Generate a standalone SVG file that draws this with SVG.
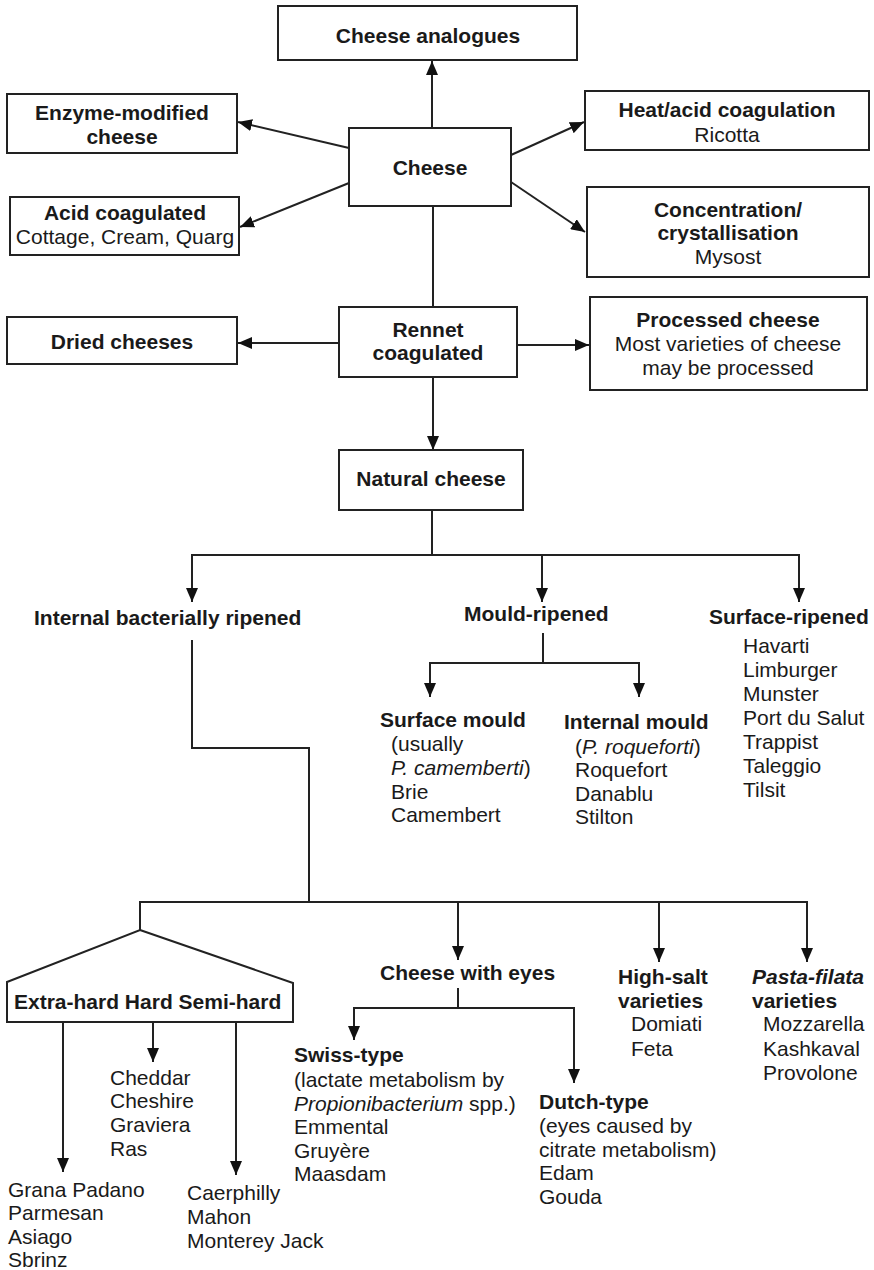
<svg xmlns="http://www.w3.org/2000/svg" width="874" height="1270" viewBox="0 0 874 1270">
<style>
text{font-family:"Liberation Sans",Arial,sans-serif;font-size:21px;fill:#1a1a1a}
.b{font-weight:bold}
.i{font-style:italic}
.c{text-anchor:middle}
.box{fill:#fff;stroke:#222;stroke-width:2}
.ln{fill:none;stroke:#222;stroke-width:2}
.ar{fill:none;stroke:#222;stroke-width:2;marker-end:url(#ah)}
</style>
<defs>
<marker id="ah" markerUnits="userSpaceOnUse" markerWidth="14" markerHeight="12" refX="14" refY="6" orient="auto">
<path d="M0,0 L14,6 L0,12 z" fill="#111"/>
</marker>
</defs>
<rect width="874" height="1270" fill="#fff"/>
<g id="connectors">
<line class="ar" x1="432" y1="128" x2="432" y2="61"/>
<line class="ar" x1="349" y1="148" x2="238" y2="122"/>
<line class="ar" x1="349" y1="183" x2="240" y2="227"/>
<line class="ar" x1="511" y1="155" x2="584" y2="122"/>
<line class="ar" x1="511" y1="182" x2="585" y2="232"/>
<line class="ln" x1="433" y1="206" x2="433" y2="307"/>
<line class="ar" x1="339" y1="343" x2="238" y2="343"/>
<line class="ar" x1="517" y1="345" x2="589" y2="345"/>
<line class="ar" x1="433" y1="377" x2="433" y2="450"/>
<line class="ln" x1="432" y1="510" x2="432" y2="555"/>
<line class="ln" x1="191" y1="555" x2="800" y2="555"/>
<line class="ar" x1="192" y1="555" x2="192" y2="602"/>
<line class="ar" x1="542" y1="555" x2="542" y2="602"/>
<line class="ar" x1="799" y1="555" x2="799" y2="602"/>
<line class="ln" x1="543" y1="633" x2="543" y2="663"/>
<line class="ln" x1="429" y1="663" x2="640" y2="663"/>
<line class="ar" x1="430" y1="663" x2="430" y2="697"/>
<line class="ar" x1="639" y1="663" x2="639" y2="697"/>
<polyline class="ln" points="192,640 192,748 309,748 309,902"/>
<line class="ln" x1="139" y1="902" x2="808" y2="902"/>
<line class="ln" x1="140" y1="902" x2="140" y2="930"/>
<line class="ar" x1="458" y1="902" x2="458" y2="960"/>
<line class="ar" x1="659" y1="902" x2="659" y2="962"/>
<line class="ar" x1="807" y1="902" x2="807" y2="962"/>
<line class="ar" x1="63" y1="1022" x2="63" y2="1172"/>
<line class="ar" x1="153" y1="1022" x2="153" y2="1062"/>
<line class="ar" x1="236" y1="1022" x2="236" y2="1175"/>
<line class="ln" x1="458" y1="988" x2="458" y2="1008"/>
<line class="ln" x1="353" y1="1008" x2="575" y2="1008"/>
<line class="ar" x1="354" y1="1008" x2="354" y2="1040"/>
<line class="ar" x1="574" y1="1008" x2="574" y2="1083"/>
</g>
<g id="cheese-analogues"><rect class="box" x="278" y="6" width="299" height="54"/><text class="b c" x="428" y="43">Cheese analogues</text></g>
<g id="enzyme-modified"><rect class="box" x="7" y="94" width="230" height="59"/><text class="b c" x="122" y="120">Enzyme-modified</text><text class="b c" x="122" y="144">cheese</text></g>
<g id="cheese"><rect class="box" x="349" y="128" width="162" height="78"/><text class="b c" x="430" y="175">Cheese</text></g>
<g id="heat-acid"><rect class="box" x="585" y="91" width="284" height="59"/><text class="b c" x="727" y="117">Heat/acid coagulation</text><text class="c" x="727" y="142">Ricotta</text></g>
<g id="acid-coagulated"><rect class="box" x="10" y="197" width="229" height="58"/><text class="b c" x="125" y="220">Acid coagulated</text><text class="c" x="125" y="244">Cottage, Cream, Quarg</text></g>
<g id="concentration"><rect class="box" x="587" y="187" width="282" height="90"/><text class="b c" x="728" y="217">Concentration/</text><text class="b c" x="728" y="240">crystallisation</text><text class="c" x="728" y="264">Mysost</text></g>
<g id="rennet"><rect class="box" x="339" y="307" width="178" height="70"/><text class="b c" x="428" y="337">Rennet</text><text class="b c" x="428" y="360">coagulated</text></g>
<g id="dried"><rect class="box" x="7" y="317" width="230" height="47"/><text class="b c" x="122" y="349">Dried cheeses</text></g>
<g id="processed"><rect class="box" x="590" y="297" width="277" height="93"/><text class="b c" x="728" y="327">Processed cheese</text><text class="c" x="728" y="351">Most varieties of cheese</text><text class="c" x="728" y="375">may be processed</text></g>
<g id="natural"><rect class="box" x="339" y="450" width="184" height="60"/><text class="b c" x="431" y="486">Natural cheese</text></g>
<g id="internal-bacterial"><text class="b" x="34" y="625">Internal bacterially ripened</text></g>
<g id="mould-ripened"><text class="b" x="464" y="621">Mould-ripened</text></g>
<g id="surface-ripened"><text class="b" x="709" y="624">Surface-ripened</text>
<text x="743" y="653">Havarti</text><text x="743" y="677">Limburger</text><text x="743" y="701">Munster</text><text x="743" y="725">Port du Salut</text><text x="743" y="749">Trappist</text><text x="743" y="773">Taleggio</text><text x="743" y="797">Tilsit</text></g>
<g id="surface-mould"><text class="b" x="380" y="727">Surface mould</text><text x="391" y="751">(usually</text><text x="391" y="775"><tspan class="i">P. camemberti</tspan>)</text><text x="391" y="799">Brie</text><text x="391" y="822">Camembert</text></g>
<g id="internal-mould"><text class="b" x="564" y="729">Internal mould</text><text x="575" y="754">(<tspan class="i">P. roqueforti</tspan>)</text><text x="575" y="777">Roquefort</text><text x="575" y="801">Danablu</text><text x="575" y="824">Stilton</text></g>
<g id="hardness"><polygon class="box" points="140,930 293,983 293,1022 7,1022 7,982"/><text class="b" x="14" y="1009">Extra-hard Hard Semi-hard</text></g>
<g id="hard"><text x="110" y="1085">Cheddar</text><text x="110" y="1108">Cheshire</text><text x="110" y="1132">Graviera</text><text x="110" y="1156">Ras</text></g>
<g id="extra-hard"><text x="8" y="1197">Grana Padano</text><text x="8" y="1220">Parmesan</text><text x="8" y="1244">Asiago</text><text x="8" y="1267">Sbrinz</text></g>
<g id="semi-hard"><text x="187" y="1200">Caerphilly</text><text x="187" y="1224">Mahon</text><text x="187" y="1248">Monterey Jack</text></g>
<g id="cheese-with-eyes"><text class="b" x="380" y="980">Cheese with eyes</text></g>
<g id="swiss"><text class="b" x="294" y="1062">Swiss-type</text><text x="294" y="1087">(lactate metabolism by</text><text x="294" y="1111"><tspan class="i">Propionibacterium</tspan> spp.)</text><text x="294" y="1134">Emmental</text><text x="294" y="1158">Gruyère</text><text x="294" y="1181">Maasdam</text></g>
<g id="dutch"><text class="b" x="539" y="1109">Dutch-type</text><text x="539" y="1133">(eyes caused by</text><text x="539" y="1157">citrate metabolism)</text><text x="539" y="1180">Edam</text><text x="539" y="1204">Gouda</text></g>
<g id="high-salt"><text class="b" x="618" y="984">High-salt</text><text class="b" x="618" y="1008">varieties</text><text x="631" y="1031">Domiati</text><text x="631" y="1056">Feta</text></g>
<g id="pasta-filata"><text class="b" x="752" y="984"><tspan class="i">Pasta-filata</tspan></text><text class="b" x="752" y="1008">varieties</text><text x="763" y="1031">Mozzarella</text><text x="763" y="1056">Kashkaval</text><text x="763" y="1080">Provolone</text></g>
</svg>
